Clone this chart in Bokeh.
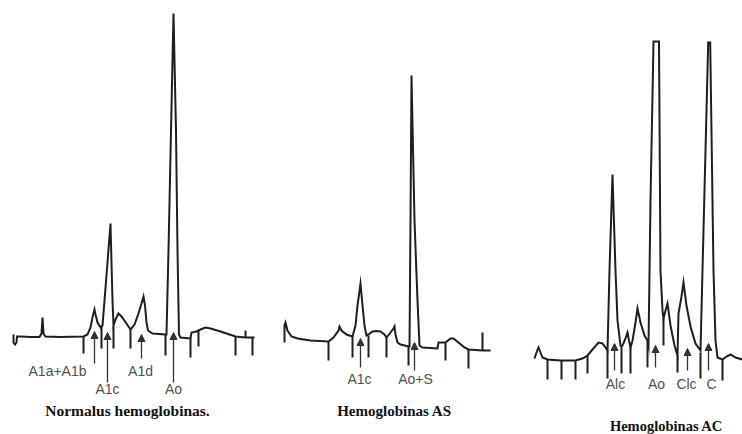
from bokeh.plotting import figure
from bokeh.models import Range1d, ColumnDataSource, Arrow, NormalHead
from bokeh.core.properties import value
from bokeh.embed import file_html
from bokeh.resources import INLINE

# ---- Panel 1: Normalus hemoglobinas (retention position, detector trace level)
trace1_x = [13, 13, 14.5, 16, 16.5, 20, 30, 39, 41, 42, 43, 45, 60, 83, 87, 90, 92, 94, 95, 97, 100,
            102, 104, 107, 110, 111, 112, 113, 115, 118, 121, 126, 130, 134, 138, 141, 143, 144.5, 146,
            147.5, 152, 165, 166, 168, 170.5, 173, 175.5, 177, 178.5, 180, 190, 191, 196, 200, 205, 210,
            220, 235, 245, 254]
trace1_y = [334, 342, 344, 342, 336, 336, 336.5, 336.5, 333, 317, 333, 336, 336.5, 336, 334, 327, 317,
            309, 314, 322, 327, 325, 300, 262, 223, 262, 300, 325, 319, 313, 316, 323, 329, 324, 313,
            303, 296, 305, 322, 330, 333, 334, 334, 250, 130, 13, 130, 250, 334, 337, 338, 332, 331,
            329, 327, 328, 331, 336, 337, 337]
ticks1_x = [83, 101, 113, 130, 165, 190, 198, 235, 252, 245]
ticks1_top = [336, 326, 326, 329, 334, 338, 330, 336, 337, 337]
ticks1_bot = [353, 348, 348, 348, 355, 357, 346, 355, 355, 330]
arrows1_x = [94, 107, 141, 173]
arrows1_from = [363, 382, 358, 382]
arrows1_to = [331, 332, 334, 332]
labels1 = ["A1a+A1b", "A1c", "A1d", "Ao"]
labels1_x = [57, 107, 140, 173]
labels1_y = [370, 388, 370, 388]

# ---- Panel 2: Hemoglobinas AS
trace2_x = [284, 284, 285, 287, 291, 297, 310, 328, 333, 338, 339, 341, 346, 352, 355, 357, 360, 362,
            364, 366, 368, 372, 376, 380, 384, 386, 390, 393, 394, 395, 397, 400, 408, 409, 410, 411,
            414, 417, 419, 422, 437, 438, 445, 450, 453, 458, 464, 468, 482, 490]
trace2_y = [342, 325, 322, 330, 336, 338, 340, 341, 337, 330, 326, 330, 334, 336, 325, 305, 283, 305,
            325, 335, 334, 331, 330.5, 331, 334, 337, 332, 328, 326, 334, 342, 344, 346, 346, 220, 75,
            220, 300, 345, 347, 348, 342, 342, 338, 338, 342, 347, 349, 350, 350]
ticks2_x = [328, 352, 368, 386, 408, 445, 468, 482]
ticks2_top = [341, 336, 335, 337, 346, 342, 349, 350]
ticks2_bot = [360, 357, 357, 357, 365, 360, 368, 332]
arrows2_x = [360, 414]
arrows2_from = [367, 370]
arrows2_to = [338, 342]
labels2 = ["A1c", "Ao+S"]
labels2_x = [359, 415]
labels2_y = [378, 378]

# ---- Panel 3: Hemoglobinas AC
trace3_x = [534, 536, 538, 540, 542, 547, 560, 575, 582, 587, 592, 598, 602, 605, 607, 609, 612, 615,
            617, 620, 622, 625, 627, 628.5, 630, 632, 635, 637, 640, 644, 647, 648, 650, 653, 658.5, 660,
            662, 663, 665, 667, 670, 674, 677, 678, 681, 683, 686, 690, 695, 700, 702, 707.7, 709.7, 713,
            715, 717, 722, 726, 730, 735, 742]
trace3_y = [358, 352, 347, 352, 357, 359, 360, 360, 358, 355, 349, 342, 343, 347, 350, 270, 174, 270,
            320, 345, 345, 338, 332, 340, 347, 340, 322, 308, 322, 335, 340, 345, 200, 41, 41, 270,
            310, 318, 310, 303, 325, 345, 355, 313, 296, 282, 305, 326, 343, 350, 270, 42, 42, 270,
            340, 357, 359, 356, 354, 357, 359]
ticks3_x = [547, 561, 575, 587, 607, 621, 630, 647, 663, 677, 700, 722]
ticks3_top = [359, 360, 360, 355, 350, 345, 347, 340, 318, 355, 352, 359]
ticks3_bot = [379, 379, 379, 373, 378, 373, 373, 367, 345, 372, 378, 380]
arrows3_x = [614, 655, 687, 708]
arrows3_from = [370, 367, 370, 370]
arrows3_to = [343, 345, 348, 343]
labels3 = ["Alc", "Ao", "Clc", "C"]
labels3_x = [615, 656, 686, 711]
labels3_y = [383, 383, 383, 383]

titles = ["Normalus hemoglobinas.", "Hemoglobinas AS", "Hemoglobinas AC"]
titles_x = [127, 394, 666]
titles_y = [410, 410, 425]
titles_size = ["15.5px", "15px", "14.5px"]

INK = "#1e1e1e"
LABEL = "#505050"

p = figure(width=742, height=434, output_backend="svg", toolbar_location=None,
           x_range=Range1d(0, 742), y_range=Range1d(434, 0),
           x_axis_type=None, y_axis_type=None,
           min_border=0, min_border_left=0, min_border_right=0,
           min_border_top=0, min_border_bottom=0)
p.outline_line_color = None
p.grid.visible = False
p.background_fill_color = "white"
p.border_fill_color = "white"

for tx, ty in [(trace1_x, trace1_y), (trace2_x, trace2_y), (trace3_x, trace3_y)]:
    p.line(tx, ty, line_color=INK, line_width=2, line_join="miter")

for kx, kt, kb in [(ticks1_x, ticks1_top, ticks1_bot), (ticks2_x, ticks2_top, ticks2_bot),
                   (ticks3_x, ticks3_top, ticks3_bot)]:
    p.segment(x0=kx, y0=kt, x1=kx, y1=kb, line_color=INK, line_width=2)

for ax, af, at in [(arrows1_x, arrows1_from, arrows1_to), (arrows2_x, arrows2_from, arrows2_to),
                   (arrows3_x, arrows3_from, arrows3_to)]:
    src = ColumnDataSource(dict(x=ax, y0=af, y1=at))
    p.add_layout(Arrow(end=NormalHead(size=7, line_color="#333333", fill_color="#333333", line_width=1),
                       x_start="x", y_start="y0", x_end="x", y_end="y1", source=src,
                       line_color="#333333", line_width=1.3))

for lt, lx, ly in [(labels1, labels1_x, labels1_y), (labels2, labels2_x, labels2_y),
                   (labels3, labels3_x, labels3_y)]:
    p.text(x=lx, y=ly, text=lt, text_align="center", text_baseline="middle",
           text_font=value("Liberation Sans"), text_font_size="14px", text_color=LABEL)

src_titles = ColumnDataSource(dict(x=titles_x, y=titles_y, t=titles, s=titles_size))
p.text(x="x", y="y", text="t", source=src_titles, text_align="center", text_baseline="middle",
       text_font=value("Liberation Serif"), text_font_size="s", text_font_style="bold",
       text_color="#111111")

open("out.html", "w").write(file_html(p, INLINE))
